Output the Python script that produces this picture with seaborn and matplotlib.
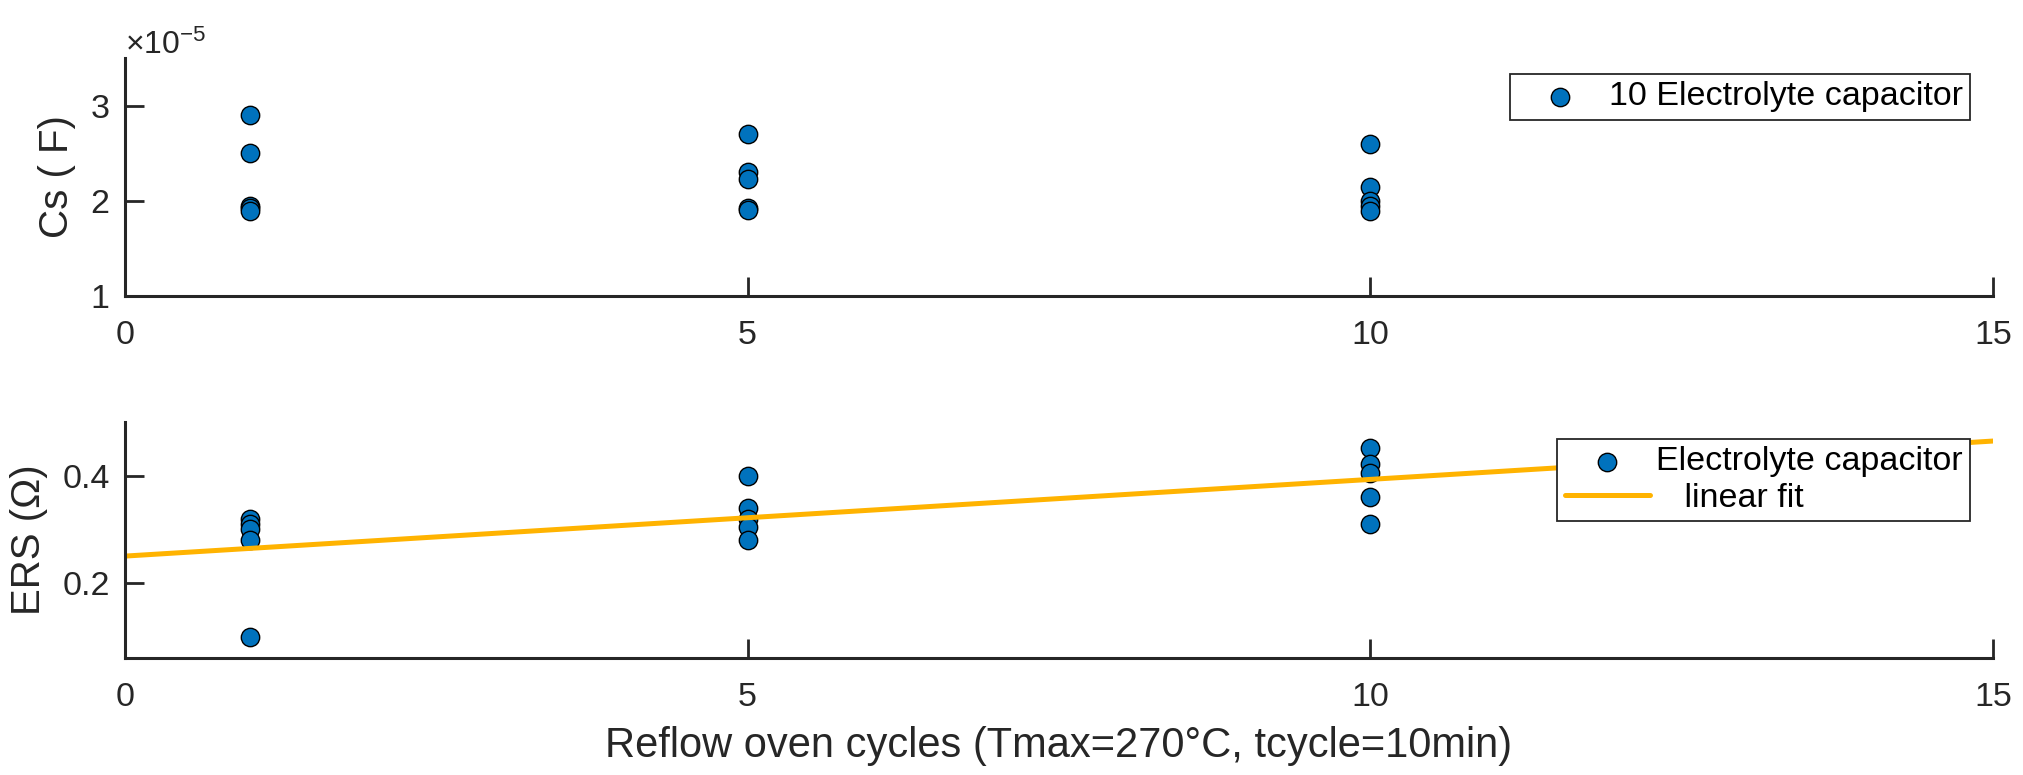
import numpy as np
import pandas as pd
import matplotlib
matplotlib.use("Agg")
import matplotlib.pyplot as plt
import seaborn as sns

# ---------------- data ----------------
cycles_cs = [1, 1, 1, 1, 1,
             5, 5, 5, 5, 5,
             10, 10, 10, 10, 10]
cs_values = [2.90e-5, 2.50e-5, 1.95e-5, 1.92e-5, 1.89e-5,
             2.70e-5, 2.30e-5, 2.23e-5, 1.92e-5, 1.90e-5,
             2.60e-5, 2.15e-5, 2.00e-5, 1.95e-5, 1.89e-5]

cycles_ers = [1, 1, 1, 1, 1,
              5, 5, 5, 5, 5,
              10, 10, 10, 10, 10]
ers_values = [0.32, 0.31, 0.30, 0.28, 0.10,
              0.40, 0.34, 0.32, 0.305, 0.28,
              0.452, 0.422, 0.404, 0.361, 0.31]

fit_intercept = 0.25
fit_slope = 0.0143
fit_x_range = [0, 15]

x_ticks = [0, 5, 10, 15]
cs_ticks = [1e-5, 2e-5, 3e-5]
ers_ticks = [0.2, 0.4]

label_cs = "10 Electrolyte capacitor"
label_ers = "Electrolyte capacitor"
label_fit = "   linear fit"
ylabel_cs = "Cs ( F)"
ylabel_ers = "ERS (\u03A9)"
xlabel = "Reflow oven cycles (Tmax=270\u00B0C, tcycle=10min)"

# ---------------- style ----------------
sns.set_theme(style="ticks")
plt.rcParams['font.family'] = ['Liberation Sans', 'DejaVu Sans']
plt.rcParams['mathtext.fontset'] = 'custom'
plt.rcParams['mathtext.rm'] = 'Liberation Sans'

dark = '#262626'
blue = '#0072BD'
orange = '#FFB300'

df_cs = pd.DataFrame({'cycle': cycles_cs, 'cs': cs_values})
df_ers = pd.DataFrame({'cycle': cycles_ers, 'ers': ers_values})
fx = np.array(fit_x_range, dtype=float)
df_fit = pd.DataFrame({'cycle': fx, 'fit': fit_intercept + fit_slope * fx})

W, H = 2023, 775
fig = plt.figure(figsize=(W / 100, H / 100), dpi=100)
fig.patch.set_facecolor('white')

def frac(l, r, t, b):
    return [l / W, 1 - b / H, (r - l) / W, (b - t) / H]

ax1 = fig.add_axes(frac(125, 1993, 58, 296))
ax2 = fig.add_axes(frac(125, 1993, 422, 658))

sns.scatterplot(data=df_cs, x='cycle', y='cs', ax=ax1, s=175, color=blue,
                edgecolor='black', linewidth=1.0, label=label_cs)
sns.scatterplot(data=df_ers, x='cycle', y='ers', ax=ax2, s=175, color=blue,
                edgecolor='black', linewidth=1.0, label=label_ers)
sns.lineplot(data=df_fit, x='cycle', y='fit', ax=ax2, color=orange,
             linewidth=3.6, label=label_fit)

for ax in (ax1, ax2):
    ax.set_xlim(0, 15)
    ax.set_xticks(x_ticks)
    ax.spines['top'].set_visible(False)
    ax.spines['right'].set_visible(False)
    for s in ('left', 'bottom'):
        ax.spines[s].set_color(dark)
        ax.spines[s].set_linewidth(2.2)
    ax.tick_params(axis='both', direction='in', length=13.5, width=2,
                   color=dark, labelcolor=dark, labelsize=24.5)
    ax.tick_params(axis='x', pad=17)
    ax.tick_params(axis='y', pad=11)
    ax.set_xlabel('')

ax1.set_ylim(1e-5, 3.5e-5)
ax1.set_yticks(cs_ticks)
ax1.ticklabel_format(axis='y', style='sci', scilimits=(0, 0), useMathText=True)
ax1.yaxis.get_offset_text().set_fontsize(23)
ax1.yaxis.get_offset_text().set_color(dark)
ax1.set_ylabel(ylabel_cs, fontsize=29, color=dark, labelpad=10)

ax2.set_ylim(0.06, 0.5)
ax2.set_yticks(ers_ticks)
ax2.set_ylabel(ylabel_ers, fontsize=29, color=dark, labelpad=10)
ax2.set_xlabel(xlabel, fontsize=30, color=dark, labelpad=10)

leg_kw = dict(fontsize=24.5, frameon=True, fancybox=False, framealpha=1,
              edgecolor=dark, handlelength=2.5, handletextpad=0.18,
              borderpad=0.22, labelspacing=0.15, borderaxespad=0,
              loc='upper right')
l1 = ax1.legend(bbox_to_anchor=((1970 - 125) / 1868, 1 - (74 - 58) / 238), **leg_kw)
l2 = ax2.legend(bbox_to_anchor=((1970 - 125) / 1868, 1 - (439 - 422) / 236), **leg_kw)
for lg in (l1, l2):
    lg.get_frame().set_linewidth(1.3)
    for t in lg.get_texts():
        t.set_color('black')

fig.savefig('out.png', dpi=100, facecolor='white')
